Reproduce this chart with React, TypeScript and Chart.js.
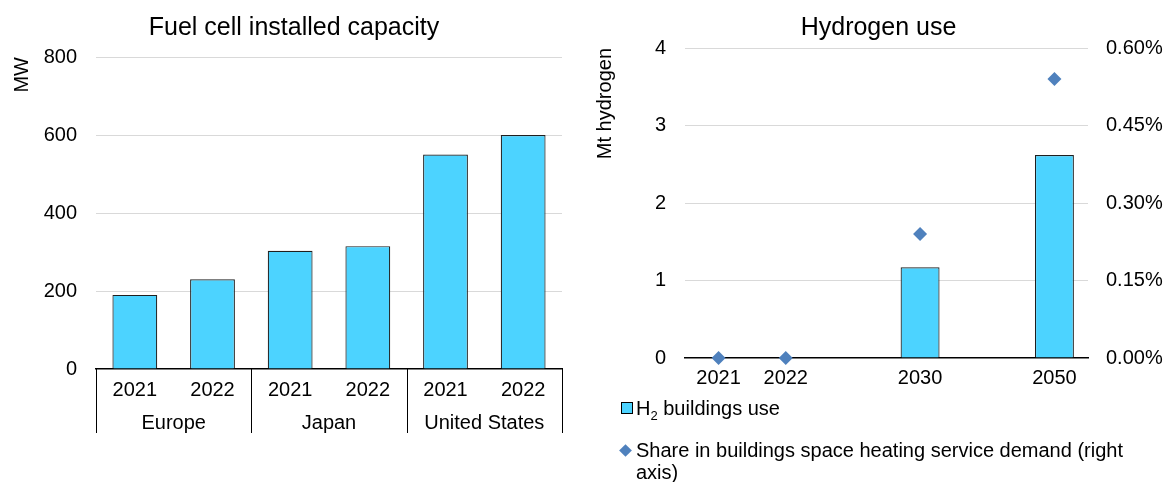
import React, { useEffect, useRef } from 'react';
import { Chart, registerables } from 'chart.js';

Chart.register(...registerables);

// ---------- data ----------
const capTitle = 'Fuel cell installed capacity';
const capYears = ['2021', '2022', '2021', '2022', '2021', '2022'];
const capRegions = ['Europe', 'Japan', 'United States'];
const capValues = [190, 230, 303, 315, 550, 600];
const capAxisTitle = 'MW';

const h2Title = 'Hydrogen use';
const h2Years = ['2021', '2022', '', '2030', '', '2050'];
const h2Use = [0, 0, null, 1.17, null, 2.62];
const h2Share = [0, 0, null, 0.24, null, 0.54];
const h2AxisTitle = 'Mt hydrogen';
const h2UseLabel = 'H2 buildings use';
const h2ShareLabel = 'Share in buildings space heating service demand (right axis)';

// ---------- style ----------
const FONT = "'Liberation Sans', Arial, Helvetica, sans-serif";
const BAR = '#4CD3FF';
const BAR_BORDER = '#1f1f1f';
const DIAMOND = '#4F81BD';
const GRID = '#D9D9D9';
const TXT = '#000000';

const gridColor = (ctx: any) => (ctx.tick && ctx.tick.value === 0 ? 'rgba(0,0,0,0)' : GRID);

const dividerPlugin = {
  id: 'groupDividers',
  afterDraw(chart: any) {
    const { ctx, chartArea, scales } = chart;
    const x = scales.x;
    const x2 = scales.x2;
    const g = capYears.length / capRegions.length;
    ctx.save();
    ctx.strokeStyle = '#000';
    ctx.lineWidth = 1;
    for (let i = 0; i <= capRegions.length; i++) {
      const px = Math.round(x.getPixelForValue(i * g - 0.5)) + 0.5;
      ctx.beginPath();
      ctx.moveTo(px, chartArea.bottom);
      ctx.lineTo(px, x2.bottom - 2);
      ctx.stroke();
    }
    ctx.restore();
  },
};

function CapacityChart() {
  const ref = useRef<HTMLCanvasElement | null>(null);
  useEffect(() => {
    if (!ref.current) return;
    const chart = new Chart(ref.current, {
      type: 'bar',
      data: {
        labels: capYears,
        datasets: [
          {
            label: capTitle,
            data: capValues,
            backgroundColor: BAR,
            borderColor: BAR_BORDER,
            borderWidth: 1.2,
            barPercentage: 0.577,
            categoryPercentage: 1,
          },
        ],
      },
      options: {
        animation: false,
        responsive: false,
        maintainAspectRatio: false,
        layout: { padding: { left: 8, right: 0, top: 0, bottom: 47 } },
        plugins: {
          legend: { display: false },
          tooltip: { enabled: false },
          title: {
            display: true,
            text: capTitle,
            color: TXT,
            font: { family: FONT, size: 25, weight: 'normal' },
            padding: { top: 13, bottom: 14 },
          },
        },
        scales: {
          x: {
            type: 'category',
            position: 'bottom',
            weight: 0,
            grid: { display: false },
            border: { display: true, color: '#000', width: 1.5 },
            ticks: { color: TXT, font: { family: FONT, size: 20 }, padding: 1, maxRotation: 0, autoSkip: false },
            afterFit: (s: any) => { s.height = 30; },
          },
          x2: {
            type: 'category',
            position: 'bottom',
            weight: 1,
            labels: capRegions,
            offset: true,
            grid: { display: false },
            border: { display: false },
            ticks: { color: TXT, font: { family: FONT, size: 20 }, padding: 4, maxRotation: 0, autoSkip: false },
            afterFit: (s: any) => { s.height = 36; },
          },
          y: {
            min: 0,
            max: 800,
            ticks: { stepSize: 200, color: TXT, font: { family: FONT, size: 20 }, padding: 19 },
            grid: { color: gridColor, lineWidth: 1, drawTicks: false },
            border: { display: false },
            title: {
              display: true,
              text: capAxisTitle,
              align: 'end',
              color: TXT,
              font: { family: FONT, size: 20 },
              padding: { top: 2, bottom: 0 },
            },
            afterFit: (s: any) => { s.width = 88; },
          },
          yPad: {
            position: 'right',
            display: true,
            grid: { display: false },
            border: { display: false },
            ticks: { display: false },
            afterFit: (s: any) => { s.width = 18; },
          },
        },
      } as any,
      plugins: [dividerPlugin],
    });
    return () => chart.destroy();
  }, []);
  return <canvas ref={ref} width={580} height={482} style={{ display: 'block' }} />;
}

function HydrogenChart() {
  const ref = useRef<HTMLCanvasElement | null>(null);
  useEffect(() => {
    if (!ref.current) return;
    const chart = new Chart(ref.current, {
      type: 'bar',
      data: {
        labels: h2Years,
        datasets: [
          {
            type: 'line',
            label: h2ShareLabel,
            data: h2Share,
            yAxisID: 'y2',
            showLine: false,
            pointStyle: 'rectRot',
            pointRadius: 7,
            pointBackgroundColor: DIAMOND,
            pointBorderColor: DIAMOND,
            pointBorderWidth: 0,
            backgroundColor: DIAMOND,
            borderColor: DIAMOND,
            clip: false,
            order: 0,
          } as any,
          {
            type: 'bar',
            label: h2UseLabel,
            data: h2Use,
            yAxisID: 'y',
            backgroundColor: BAR,
            borderColor: BAR_BORDER,
            borderWidth: 1.2,
            barPercentage: 0.58,
            categoryPercentage: 1,
            order: 1,
          },
        ],
      },
      options: {
        animation: false,
        responsive: false,
        maintainAspectRatio: false,
        layout: { padding: { left: 8, right: 0, top: 0, bottom: 88 } },
        plugins: {
          legend: { display: false },
          tooltip: { enabled: false },
          title: {
            display: true,
            text: h2Title,
            color: TXT,
            font: { family: FONT, size: 25, weight: 'normal' },
            padding: { top: 13, bottom: 5 },
          },
        },
        scales: {
          x: {
            type: 'category',
            offset: true,
            grid: { display: false },
            border: { display: true, color: '#000', width: 1.5 },
            ticks: { color: TXT, font: { family: FONT, size: 20 }, padding: 0, maxRotation: 0, autoSkip: false },
            afterFit: (s: any) => { s.height = 36; },
          },
          y: {
            position: 'left',
            min: 0,
            max: 4,
            ticks: { stepSize: 1, color: TXT, font: { family: FONT, size: 20 }, padding: 19 },
            grid: { color: gridColor, lineWidth: 1, drawTicks: false },
            border: { display: false },
            title: {
              display: true,
              text: h2AxisTitle,
              align: 'end',
              color: TXT,
              font: { family: FONT, size: 20 },
              padding: { top: 5, bottom: 0 },
            },
            afterFit: (s: any) => { s.width = 97; },
          },
          y2: {
            position: 'right',
            min: 0,
            max: 0.6,
            ticks: {
              stepSize: 0.15,
              color: TXT,
              font: { family: FONT, size: 20 },
              padding: 18,
              callback: (v: any) => Number(v).toFixed(2) + '%',
            },
            grid: { drawOnChartArea: false, drawTicks: false },
            border: { display: false },
            afterFit: (s: any) => { s.width = 81; },
          },
        },
      } as any,
    });
    return () => chart.destroy();
  }, []);
  return <canvas ref={ref} width={589} height={482} style={{ display: 'block' }} />;
}

function Legend() {
  const text: React.CSSProperties = { fontFamily: FONT, fontSize: 20, color: TXT, lineHeight: '22px' };
  return (
    <>
      <div style={{ position: 'absolute', left: 621, top: 396, display: 'flex', alignItems: 'center', ...text, lineHeight: '24px' }}>
        <span style={{ display: 'inline-block', width: 10, height: 10, background: BAR, border: '1.5px solid #000', marginRight: 3 }} />
        <span>
          H<sub style={{ fontSize: 13, lineHeight: 0 }}>2</sub> buildings use
        </span>
      </div>
      <div style={{ position: 'absolute', left: 618, top: 439, width: 550, display: 'flex', alignItems: 'flex-start', ...text }}>
        <span style={{ display: 'inline-block', width: 9, height: 9, background: DIAMOND, transform: 'rotate(45deg)', marginTop: 7, marginLeft: 3, marginRight: 6, flex: '0 0 auto' }} />
        <span style={{ width: 525 }}>{h2ShareLabel}</span>
      </div>
    </>
  );
}

export default function App() {
  return (
    <div style={{ position: 'absolute', left: 0, top: 0, width: 1169, height: 482, background: '#fff', overflow: 'hidden' }}>
      <div style={{ position: 'absolute', left: 0, top: 0 }}>
        <CapacityChart />
      </div>
      <div style={{ position: 'absolute', left: 580, top: 0 }}>
        <HydrogenChart />
      </div>
      <Legend />
    </div>
  );
}
